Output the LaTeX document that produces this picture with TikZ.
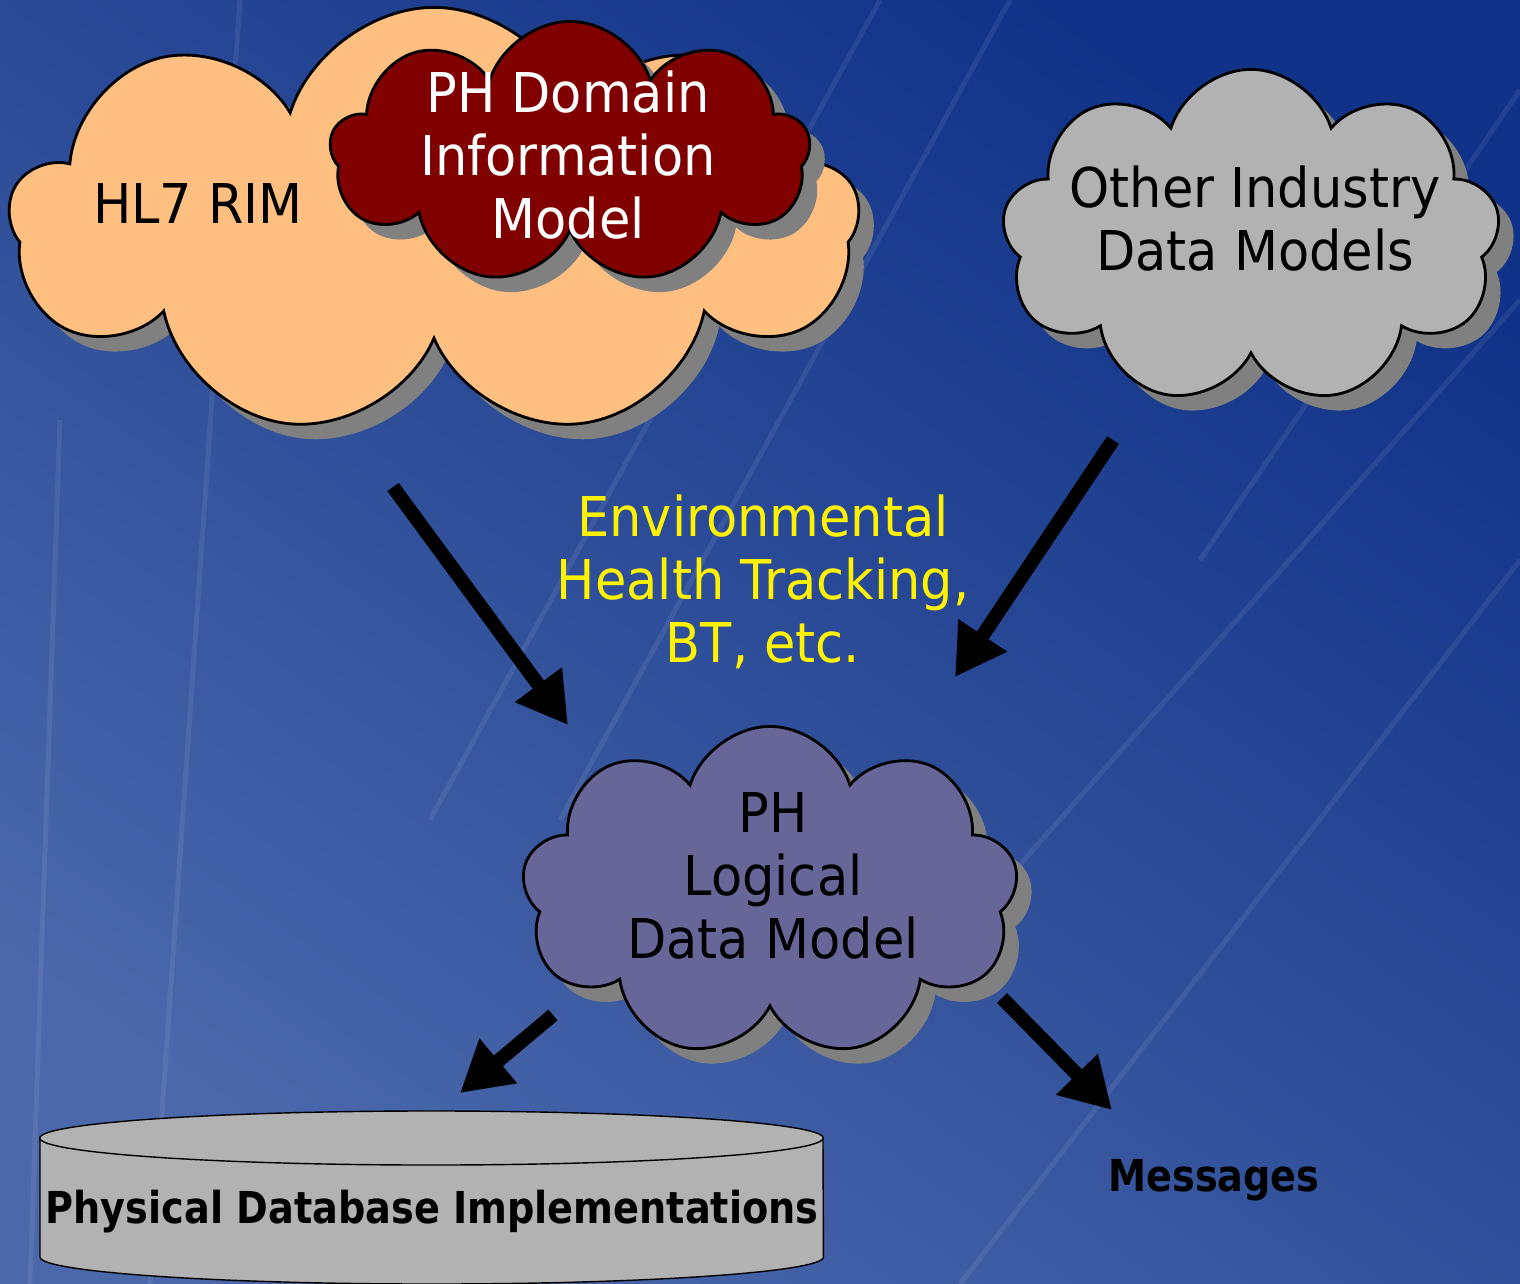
\documentclass[tikz,border=0pt]{standalone}
\usepackage{fontspec}
\setmainfont{DejaVu Sans}
\newfontfamily\slimsans[FakeStretch=0.93]{DejaVu Sans}
\newfontfamily\slimbold[FakeStretch=0.87]{DejaVu Sans}
\usetikzlibrary{shapes.symbols,shadows,arrows.meta}

\definecolor{bgdark}{RGB}{16,50,136}
\definecolor{bglight}{RGB}{74,104,170}
\definecolor{rimorange}{RGB}{255,191,128}
\definecolor{domred}{RGB}{128,0,0}
\definecolor{modgray}{RGB}{178,178,178}
\definecolor{ldmpurple}{RGB}{102,102,153}
\definecolor{shadegray}{RGB}{128,128,128}

\tikzset{
  puff/.style={cloud, cloud puffs=9, cloud puff arc=145, cloud ignores aspect,
    draw=black, thick, inner sep=0pt,
    drop shadow={shadow xshift=0.15cm, shadow yshift=-0.15cm, fill=shadegray, opacity=1}},
  cloudtext/.style={font=\slimsans\fontsize{15.6}{17.9}\selectfont, align=center, inner sep=0pt},
  boldtext/.style={font=\slimbold\bfseries\fontsize{12.5}{14}\selectfont, inner sep=0pt},
  bigarrow/.style={line width=0.14cm, -{Triangle[width=0.55cm,length=0.5cm]}},
  streak/.style={white, opacity=0.08, line width=0.05cm},
}

\begin{document}
\begin{tikzpicture}[x=0.01cm,y=-0.01cm]
% background
\useasboundingbox (0,0) rectangle (1520,1284);
\shade[shading=axis, top color=bgdark, bottom color=bglight, shading angle=-35] (0,0) rectangle (1520,1284);
\draw[streak] (240,0) -- (150,1284);
\draw[streak] (60,420) -- (30,1284);
\draw[streak] (1010,0) -- (560,820);
\draw[streak] (880,0) -- (430,820);
\draw[streak] (1520,90) -- (1200,560);
\draw[streak] (1520,560) -- (960,1284);
\draw[streak] (1520,300) -- (900,1000);

% clouds
\node[puff, fill=rimorange, minimum width=8.48cm, minimum height=4.29cm] (hl7) at (434,222) {};
\node[cloudtext] (hl7txt) at (198,203) {HL7 RIM};
\node[puff, fill=domred, minimum width=4.8cm, minimum height=2.63cm] (phdom) at (570,153) {};
\node[cloudtext, white] (phdomtxt) at (568,155) {PH Domain\\Information\\Model};

\node[puff, fill=modgray, minimum width=4.98cm, minimum height=3.35cm] (other) at (1251,237) {};
\node[cloudtext] (othertxt) at (1255,219) {Other Industry\\Data Models};

\node[puff, fill=ldmpurple, minimum width=4.96cm, minimum height=3.31cm] (ldm) at (770,892) {};
\node[cloudtext] (ldmtxt) at (773,876) {PH\\Logical\\Data Model};

\node[cloudtext, yellow] (eht) at (763,582) {Environmental\\Health Tracking,\\BT, etc.};

% database
\draw[fill=modgray] (40,1138) -- (40,1257) arc[start angle=180, end angle=360, x radius=3.915cm, y radius=0.27cm] -- (823,1138) -- cycle;
\draw[fill=modgray] (431.5,1138) ellipse [x radius=3.915cm, y radius=0.27cm];
\node[boldtext] (db) at (432,1212) {Physical Database Implementations};
\node[boldtext] (msg) at (1214,1180) {Messages};

% arrows
\coordinate (a1s) at (393,487);  \coordinate (a1e) at (568,725);
\coordinate (a2s) at (1113,440); \coordinate (a2e) at (955,677);
\coordinate (a3s) at (553,1015); \coordinate (a3e) at (460,1093);
\coordinate (a4s) at (1002,998); \coordinate (a4e) at (1112,1110);
\draw[bigarrow] (a1s) -- (a1e);
\draw[bigarrow] (a2s) -- (a2e);
\draw[bigarrow] (a3s) -- (a3e);
\draw[bigarrow] (a4s) -- (a4e);
\end{tikzpicture}
\end{document}
